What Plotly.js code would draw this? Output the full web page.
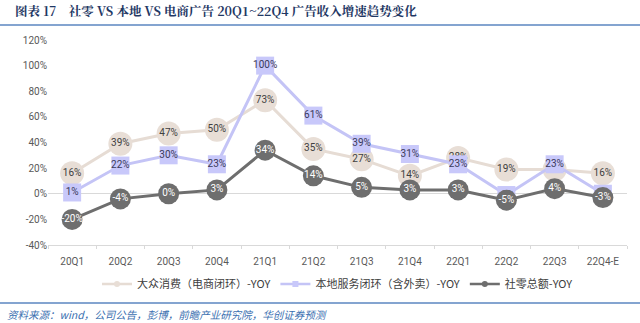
<!DOCTYPE html>
<html><head><meta charset="utf-8">
<script src="https://cdn.plot.ly/plotly-3.0.1.min.js"></script>
<style>html,body{margin:0;padding:0;background:#fff;}#chart{width:640px;height:323px;}</style>
</head><body><div id="chart"></div>
<script>
const categories = ['20Q1','20Q2','20Q3','20Q4','21Q1','21Q2','21Q3','21Q4','22Q1','22Q2','22Q3','22Q4-E'];
const consumer = [16, 39, 47, 50, 73, 35, 27, 14, 28, 19, 19, 16];
const localSvc = [1, 22, 30, 23, 100, 61, 39, 31, 23, -1, 23, 0];
const retail = [-20, -4, 0, 3, 34, 14, 5, 3, 3, -5, 4, -3];
const names = ['大众消费（电商闭环）-YOY', '本地服务闭环（含外卖）-YOY', '社零总额-YOY'];
const yTicks = [-40, -20, 0, 20, 40, 60, 80, 100, 120];

const fam = 'Roboto, "Noto Sans CJK SC", sans-serif';
function pct(a){ return a.map(v => v + '%'); }

const styles = [
  {line: {color: '#e6dcd4', width: 3}, marker: {symbol: 'circle', size: 24, color: '#e8ded6'}, tc: '#404040', lm: 6},
  {line: {color: '#c4c4f6', width: 3}, marker: {symbol: 'square', size: 18, color: '#c8c8fa'}, tc: '#3a3a5a', lm: 6},
  {line: {color: '#6e6e6e', width: 3}, marker: {symbol: 'circle', size: 21, color: '#6e6e6e'}, tc: '#ffffff', lm: 6}
];
const series = [consumer, localSvc, retail];

const traces = [];
series.forEach((vals, i) => {
  const s = styles[i];
  traces.push({x: categories, y: vals, name: names[i], type: 'scatter', mode: 'lines+markers+text',
    line: s.line, marker: s.marker, showlegend: false,
    text: pct(vals), textposition: 'middle center',
    textfont: {family: fam, size: 10, color: s.tc}, cliponaxis: false});
});
series.forEach((vals, i) => {
  const s = styles[i];
  traces.push({x: [null], y: [null], name: names[i], type: 'scatter', mode: 'lines+markers',
    line: {color: s.line.color, width: 2.5},
    marker: {symbol: s.marker.symbol, size: s.lm, color: s.marker.color}, showlegend: true});
});

const plotH = 323 - 40 - 78;
const layout = {
  width: 640, height: 323,
  margin: {l: 48, r: 13, t: 40, b: 78},
  paper_bgcolor: '#ffffff', plot_bgcolor: '#ffffff',
  showlegend: true,
  legend: {orientation: 'h', x: 0.5, xanchor: 'center', y: -0.19, yanchor: 'middle',
           font: {family: '"Noto Sans CJK SC", sans-serif', size: 11, color: '#404040'},
           itemwidth: 30, traceorder: 'normal'},
  xaxis: {type: 'category', range: [-0.5, 11.5], showgrid: false, zeroline: false,
          showline: true, linecolor: '#d9d9d9', linewidth: 1,
          ticks: 'outside', tickson: 'boundaries', ticklen: 3, tickcolor: '#d9d9d9',
          tickfont: {family: 'Roboto, sans-serif', size: 10, color: '#595959'}, ticklabelstandoff: 7},
  yaxis: {range: [-40, 120], tickvals: yTicks, ticktext: yTicks.map(v => v + '%'),
          showgrid: false, zeroline: true, zerolinecolor: '#d9d9d9', zerolinewidth: 1,
          showline: false, ticks: '',
          tickfont: {family: 'Roboto, sans-serif', size: 10, color: '#595959'}},
  annotations: [
    {text: '<b>图表 17&nbsp;&nbsp;&nbsp;&nbsp;社零 VS 本地 VS 电商广告 20Q1~22Q4 广告收入增速趋势变化</b>',
     xref: 'paper', yref: 'paper', x: -0.06, xanchor: 'left', y: 1.0, yanchor: 'middle', yshift: 29,
     showarrow: false, font: {family: '"Noto Serif CJK SC", "Liberation Serif", serif', size: 12.5, color: '#1f3864'}},
    {text: '<i>资料来源：wind，公司公告，彭博，前瞻产业研究院，华创证券预测</i>',
     xref: 'paper', yref: 'paper', x: -0.075, xanchor: 'left', y: 0, yanchor: 'middle', yshift: -69,
     showarrow: false, font: {family: '"Noto Sans CJK SC", serif', size: 10.5, color: '#3a6fb0'}}
  ],
  shapes: [
    {type: 'line', xref: 'paper', yref: 'paper', x0: -0.083, x1: 1.03,
     y0: 1 + (40 - 25) / plotH, y1: 1 + (40 - 25) / plotH, line: {color: '#5b86c0', width: 1.5}},
    {type: 'line', xref: 'paper', yref: 'paper', x0: -0.083, x1: 1.03,
     y0: -(303 - 245) / plotH, y1: -(303 - 245) / plotH, line: {color: '#5b86c0', width: 1.5}}
  ]
};

Plotly.newPlot('chart', traces, layout, {displayModeBar: false, staticPlot: true});
</script></body></html>
